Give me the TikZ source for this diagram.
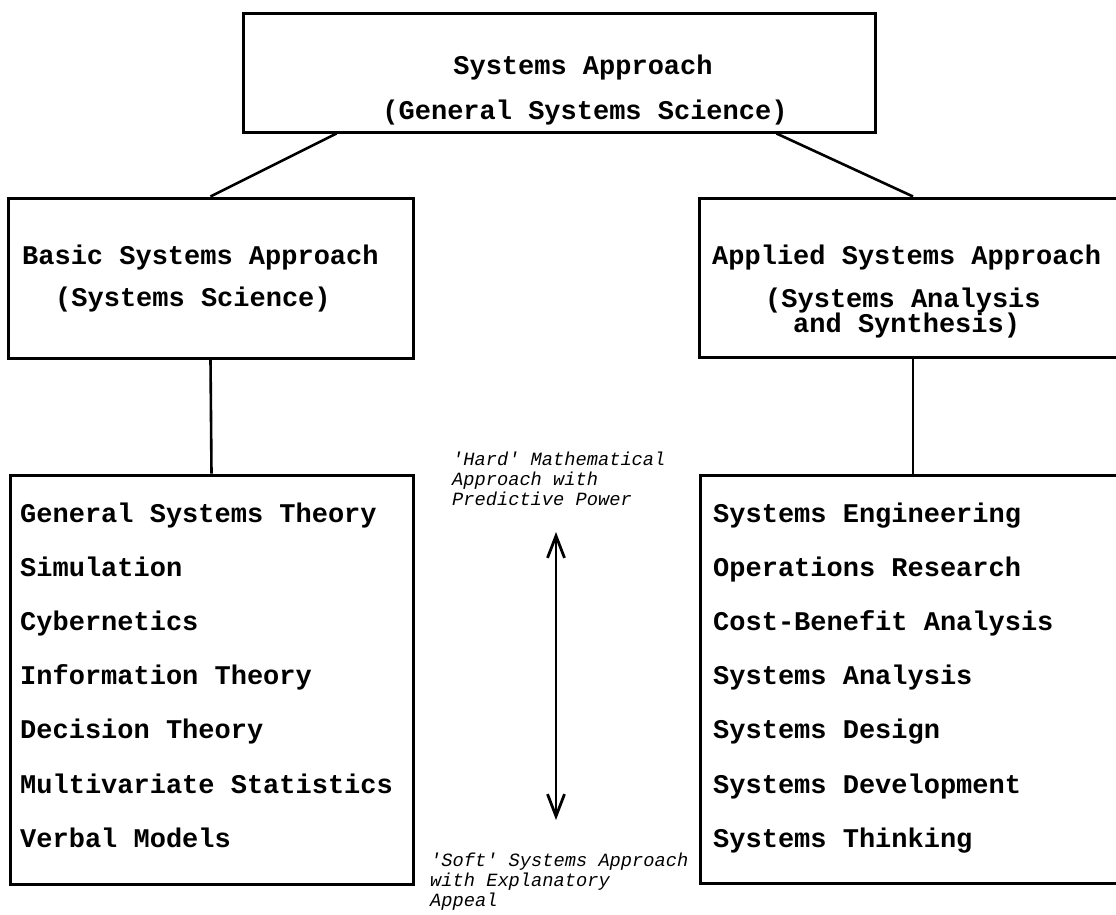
\documentclass[tikz,border=0pt]{standalone}
\usepackage{fontspec}
\setmonofont{Liberation Mono}
\usetikzlibrary{arrows.meta}

\tikzset{
  box/.style={draw, line width=3pt, inner sep=0pt},
  link/.style={line width=2.6pt},
  entry/.style={anchor=west, inner sep=0pt, text height=0.95em, text depth=0.12em, yshift=-5pt,
    font=\ttfamily\bfseries\fontsize{27}{30}\selectfont},
  heading/.style={inner sep=0pt, text height=0.95em, text depth=0.12em, yshift=-5pt,
    font=\ttfamily\bfseries\fontsize{27}{30}\selectfont},
  remark/.style={anchor=north west, align=left, inner sep=0pt, font=\ttfamily\itshape\fontsize{18.7}{20}\selectfont},
  twoway/.style={line width=2.8pt, {Straight Barb[length=22pt,width=17pt]}-{Straight Barb[length=22pt,width=17pt]}},
}

\begin{document}
\begin{tikzpicture}[x=1pt,y=-1pt]
        \useasboundingbox (0,0) rectangle (1116,914);

        \coordinate (hardtip) at (556,532);
        \coordinate (softtip) at (556,820);

        % boxes
        \node[box,minimum width=632pt,minimum height=119pt] (top)     at (559,72.5)  {};
        \node[box,minimum width=405pt,minimum height=160pt] (basic)   at (210.5,278) {};
        \node[box,minimum width=428pt,minimum height=159pt] (applied) at (913,277.5) {};
        \node[box,minimum width=403pt,minimum height=409pt] (methods) at (211.5,679.5) {};
        \node[box,minimum width=426pt,minimum height=408pt] (fields)  at (913,679)   {};

        \draw[link] ([xshift=95pt]top.south west)   -- (basic.north);
        \draw[link] ([xshift=-100pt]top.south east) -- (applied.north);
        \draw[link] (basic.south)   -- (methods.north);
        \draw[link] (applied.south) -- (fields.north);

        % headings
        \node[heading] (toptitle) at (583,65)  {Systems Approach};
        \node[heading] (topsub)   at (585,110) {(General Systems Science)};

        \node[entry] (basictitle)   at (22,255)  {Basic Systems Approach};
        \node[entry] (basicsub)     at (55,297)  {(Systems Science)};
        \node[entry] (appliedtitle) at (712,255) {Applied Systems Approach};
        \node[entry] (appliedsub)   at (765,298) {(Systems Analysis};
        \node[entry] (appliedsubb)  at (793,323) {and Synthesis)};

        % lists
        \foreach \txt [count=\i] in {General Systems Theory, Simulation, Cybernetics,
            Information Theory, Decision Theory, Multivariate Statistics, Verbal Models}
          \node[entry] (m\i) at (20,513+54.2*\i-54.2) {\txt};
        \foreach \txt [count=\i] in {Systems Engineering, Operations Research, Cost-Benefit Analysis,
            Systems Analysis, Systems Design, Systems Development, Systems Thinking}
          \node[entry] (f\i) at (713,513+54.2*\i-54.2) {\txt};

        % hard/soft scale
        \draw[twoway] (hardtip) -- (softtip);
        \node[remark] (hard) at (452,452) {'Hard' Mathematical\\Approach with\\Predictive Power};
        \node[remark] (soft) at (430,853) {'Soft' Systems Approach\\with Explanatory\\Appeal};
    \end{tikzpicture}
\end{document}
